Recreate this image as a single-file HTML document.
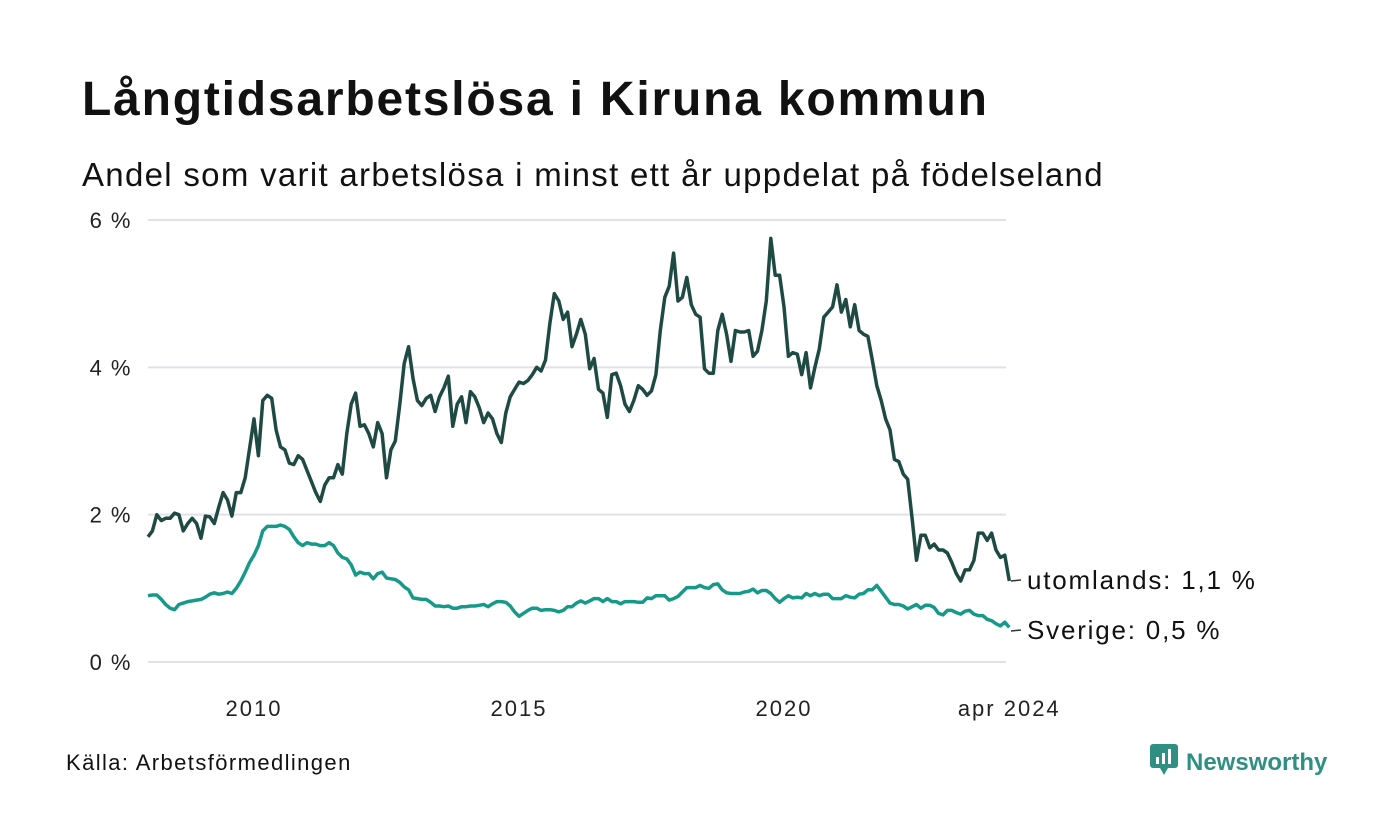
<!DOCTYPE html>
<html><head><meta charset="utf-8">
<style>
body{margin:0;background:#fff;font-family:"Liberation Sans",sans-serif;}
#wrap{position:relative;width:1400px;height:840px;overflow:hidden;}
h1{position:absolute;left:82px;top:72px;margin:0;font-size:48px;font-weight:bold;color:#111;letter-spacing:1.8px;}
.sub{position:absolute;left:82px;top:156px;font-size:33px;color:#111;letter-spacing:1.3px;}
.src{position:absolute;left:66px;top:750px;font-size:22px;color:#111;letter-spacing:1.4px;}
.logo{position:absolute;left:1150px;top:744px;font-size:24px;font-weight:bold;color:#2f8f83;}
</style></head><body>
<div id="wrap">
<h1>Långtidsarbetslösa i Kiruna kommun</h1>
<div class="sub">Andel som varit arbetslösa i minst ett år uppdelat på födelseland</div>
<svg id="chart" width="1400" height="840" style="position:absolute;left:0;top:0"></svg>
<div class="src">Källa: Arbetsförmedlingen</div>
<div class="logo"><svg width="30" height="32" style="vertical-align:-6px;margin-right:6px"><rect x="0" y="0" width="28" height="24" rx="3" fill="#2f8f83"/><polygon points="10,24 18,24 14,31" fill="#2f8f83"/><rect x="6" y="13" width="3" height="7" fill="#fff"/><rect x="12" y="9" width="3" height="11" fill="#fff"/><rect x="18" y="5" width="3" height="15" fill="#fff"/></svg>Newsworthy</div>
</div>
<script>
const yTicks=[0,2,4,6];
const yTickLabels=["0 %","2 %","4 %","6 %"];
const xTicks=[2010,2015,2020,2024.25];
const xTickLabels=["2010","2015","2020","apr 2024"];
const utomlands=[
1.7,1.78,2.0,1.92,1.95,1.95,2.02,2.0,1.78,1.88,1.95,1.88,
1.68,1.98,1.97,1.88,2.1,2.3,2.2,1.98,2.3,2.3,2.5,2.9,
3.3,2.8,3.55,3.62,3.58,3.15,2.92,2.88,2.7,2.68,2.8,2.75,
2.6,2.45,2.3,2.18,2.4,2.5,2.5,2.68,2.55,3.1,3.5,3.65,
3.2,3.22,3.1,2.92,3.25,3.1,2.5,2.88,3.0,3.5,4.05,4.28,
3.85,3.55,3.48,3.58,3.62,3.4,3.6,3.72,3.88,3.2,3.5,3.6,
3.25,3.67,3.6,3.45,3.25,3.38,3.3,3.1,2.98,3.38,3.6,3.7,
3.8,3.78,3.82,3.9,4.0,3.95,4.1,4.6,5.0,4.9,4.65,4.75,
4.28,4.45,4.65,4.45,3.98,4.12,3.7,3.65,3.32,3.9,3.92,3.75,
3.5,3.4,3.55,3.75,3.7,3.62,3.68,3.9,4.5,4.95,5.1,5.55,
4.9,4.95,5.22,4.85,4.72,4.68,3.98,3.92,3.92,4.5,4.72,4.45,
4.08,4.5,4.48,4.48,4.5,4.15,4.22,4.5,4.9,5.75,5.25,5.25,
4.82,4.15,4.2,4.18,3.9,4.2,3.72,4.0,4.25,4.68,4.75,4.82,
5.12,4.75,4.92,4.55,4.85,4.5,4.45,4.42,4.1,3.75,3.55,3.3,
3.15,2.75,2.72,2.55,2.48,1.95,1.38,1.72,1.72,1.55,1.6,1.52,
1.52,1.48,1.35,1.2,1.1,1.25,1.25,1.38,1.75,1.75,1.65,1.75,
1.52,1.42,1.45,1.1];
const sverige=[
0.9,0.91,0.91,0.85,0.78,0.73,0.71,0.78,0.8,0.82,0.83,0.84,
0.85,0.88,0.92,0.94,0.92,0.93,0.95,0.93,1.0,1.1,1.22,1.35,
1.45,1.58,1.78,1.84,1.84,1.84,1.86,1.84,1.8,1.7,1.62,1.58,
1.62,1.6,1.6,1.58,1.58,1.62,1.58,1.48,1.42,1.4,1.32,1.18,
1.22,1.2,1.2,1.13,1.2,1.22,1.14,1.13,1.12,1.08,1.02,0.98,
0.87,0.86,0.85,0.85,0.81,0.76,0.76,0.75,0.76,0.73,0.73,0.75,
0.75,0.76,0.76,0.77,0.78,0.75,0.79,0.82,0.82,0.81,0.76,0.68,
0.62,0.66,0.7,0.73,0.73,0.7,0.71,0.71,0.7,0.68,0.7,0.75,
0.75,0.8,0.83,0.8,0.83,0.86,0.86,0.82,0.86,0.82,0.82,0.79,
0.82,0.82,0.82,0.81,0.81,0.87,0.86,0.9,0.9,0.9,0.84,0.86,
0.89,0.95,1.01,1.01,1.01,1.04,1.01,1.0,1.05,1.06,0.98,0.94,
0.93,0.93,0.93,0.95,0.96,0.99,0.94,0.97,0.97,0.93,0.86,0.81,
0.86,0.9,0.87,0.88,0.87,0.93,0.9,0.93,0.9,0.92,0.92,0.86,
0.86,0.86,0.9,0.88,0.87,0.92,0.93,0.98,0.98,1.04,0.96,0.88,
0.8,0.78,0.78,0.76,0.72,0.75,0.78,0.73,0.77,0.77,0.74,0.66,
0.64,0.7,0.7,0.67,0.65,0.69,0.7,0.65,0.63,0.63,0.58,0.56,
0.52,0.49,0.54,0.47];
const startYear=2008;
const seriesNames=["utomlands","Sverige"];

const NS="http://www.w3.org/2000/svg";
const svg=document.getElementById('chart');
const X0=148,Y0=662,PXY=73.67,PXYR=53;
function xs(t){return X0+(t-startYear)*PXYR;}
function ys(v){return Y0-v*PXY;}
function mk(tag,attrs){const e=document.createElementNS(NS,tag);for(const k in attrs)e.setAttribute(k,attrs[k]);svg.appendChild(e);return e;}
yTicks.forEach((v,i)=>{
  const l=mk('line',{x1:148,x2:1006,y1:ys(v),y2:ys(v),stroke:'#e2e1e6','stroke-width':2});
  
  
  const t=mk('text',{x:132,y:ys(v)+8,'text-anchor':'end','font-size':22,'letter-spacing':1.5,fill:'#222','font-family':'Liberation Sans, sans-serif'});
  t.textContent=yTickLabels[i];
  
  
});
xTicks.forEach((v,i)=>{
  const t=mk('text',{x:xs(v),y:716,'text-anchor':'middle','font-size':22,'letter-spacing':2,fill:'#222','font-family':'Liberation Sans, sans-serif'});
  t.textContent=xTickLabels[i];
  
  
});
function line(data,color,name){
  const d=data.map((v,i)=>(i?'L':'M')+xs(startYear+i/12).toFixed(1)+','+ys(v).toFixed(1)).join('');
  const p=mk('path',{d:d,fill:'none',stroke:color,'stroke-width':3.5,'stroke-linejoin':'round'});
  
  
}
line(sverige,'#17998a','line-sverige');
line(utomlands,'#1f4a44','line-utomlands');
function endLabel(data,label,ly,name){
  const v=data[data.length-1];
  const c=mk('line',{x1:1011,y1:ly+1,x2:1021,y2:ly,stroke:'#333','stroke-width':1.5});
  
  
  const t=mk('text',{x:1027,y:ly+9,'font-size':26,'letter-spacing':1.8,fill:'#111','font-family':'Liberation Sans, sans-serif'});
  t.textContent=label+': '+v.toFixed(1).replace('.',',')+' %';
  
  
}
endLabel(utomlands,'utomlands',580,'label-utomlands');
endLabel(sverige,'Sverige',630,'label-sverige');
</script>
</body></html>
